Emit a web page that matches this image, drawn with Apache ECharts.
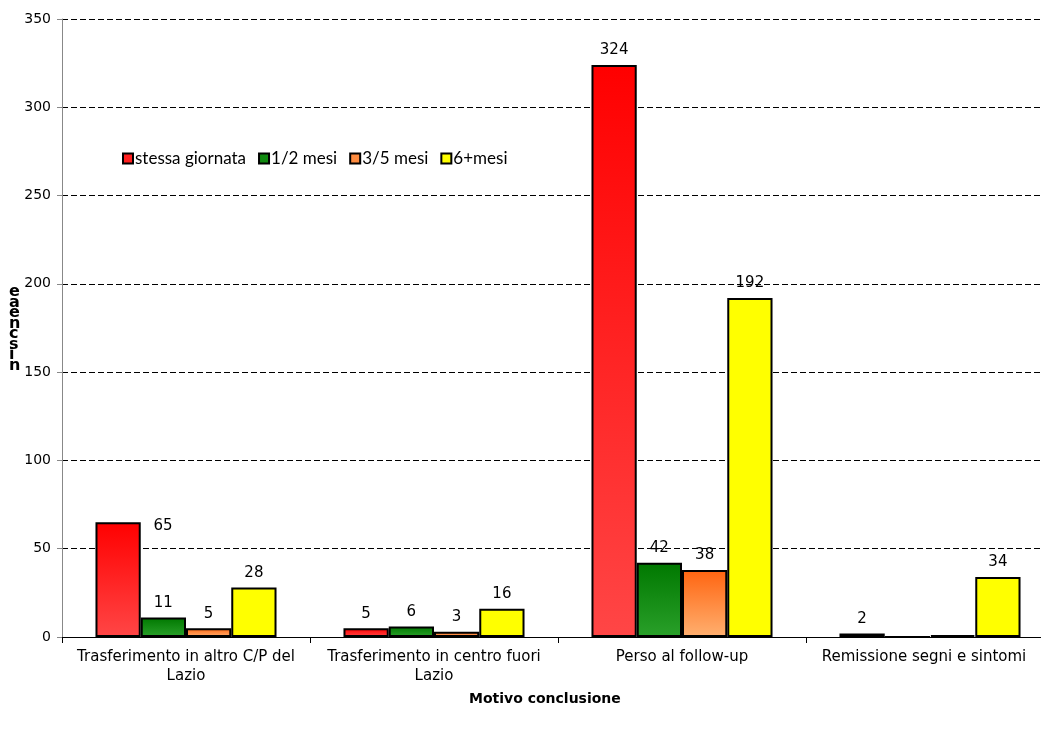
<!DOCTYPE html>
<html>
<head>
<meta charset="utf-8">
<script src="https://cdn.jsdelivr.net/npm/echarts@6/dist/echarts.min.js"></script>
<style>
  html, body { margin: 0; padding: 0; background: #ffffff; overflow: hidden; }
  #chart { width: 1054px; height: 733px; }
</style>
</head>
<body>
<div id="chart"></div>
<script>
// Motivo conclusione: number of cases by follow-up duration
const categories = [
  'Trasferimento in altro C/P del\nLazio',
  'Trasferimento in centro fuori\nLazio',
  'Perso al follow-up',
  'Remissione segni e sintomi'
];
const seriesNames = ['stessa giornata', '1/2 mesi', '3/5 mesi', '6+mesi'];
const stessaGiornata = [65, 5, 324, 2];
const unoDueMesi = [11, 6, 42, 0];
const treCinqueMesi = [5, 3, 38, 1];
const seiPiuMesi = [28, 16, 192, 34];
const yTicks = [0, 50, 100, 150, 200, 250, 300, 350];
const yAxisTitleChars = ['e', 'a', 'e', 'n', 'c', 's', 'i', 'n'];

const grad = (top, bottom) => new echarts.graphic.LinearGradient(0, 0, 0, 1, [
  { offset: 0, color: top },
  { offset: 1, color: bottom }
]);

const fills = [
  grad('#ff0000', '#ff4646'),
  grad('#007800', '#2aa02a'),
  grad('#ff6410', '#ffb070'),
  '#ffff00'
];
const legendFills = ['#ff2020', '#108a10', '#ff8c40', '#ffff00'];

const labelFont = { fontFamily: 'DejaVu Sans', fontSize: 15, color: '#000' };

function buildData(values, seriesIdx) {
  return values.map((v, i) => {
    const item = { value: v };
    // hide labels for empty/near-empty bars in the last group
    if (i === 3 && (seriesIdx === 1 || seriesIdx === 2)) {
      item.label = { show: false };
    }
    // the first red bar carries its label beside the top edge
    if (i === 0 && seriesIdx === 0) {
      item.label = { offset: [45, 18] };
    }
    return item;
  });
}

const allValues = [stessaGiornata, unoDueMesi, treCinqueMesi, seiPiuMesi];

const series = allValues.map((vals, s) => ({
  name: seriesNames[s],
  type: 'bar',
  data: buildData(vals, s),
  barGap: '0%',
  barCategoryGap: '27%',
  itemStyle: {
    color: fills[s],
    borderColor: '#000',
    borderWidth: 2
  },
  label: Object.assign({ show: true, position: 'top', distance: 7 }, labelFont),
  emphasis: { disabled: true }
}));

const chart = echarts.init(document.getElementById('chart'), null, { renderer: 'canvas' });

chart.setOption({
  backgroundColor: '#ffffff',
  animation: false,
  grid: { left: 62, top: 19, right: 0, bottom: 96, containLabel: false },
  legend: {
    left: 117,
    top: 145,
    itemWidth: 10,
    itemHeight: 10,
    itemGap: 12,
    icon: 'rect',
    data: seriesNames.map((n, i) => ({
      name: n,
      itemStyle: { color: legendFills[i], borderColor: '#000', borderWidth: 2 }
    })),
    textStyle: { fontFamily: 'Lato', fontSize: 17, color: '#000', padding: [0, 0, 0, -3] }
  },
  xAxis: {
    type: 'category',
    data: categories,
    axisLine: { lineStyle: { color: '#000', width: 1 } },
    axisTick: { show: true, length: 6, lineStyle: { color: '#000' } },
    axisLabel: {
      fontFamily: 'DejaVu Sans',
      fontSize: 15,
      color: '#000',
      margin: 11,
      lineHeight: 19,
      interval: 0,
      formatter: (v, i) => (i === 3 ? '{r|' + v + '}' : v),
      rich: {
        r: { fontFamily: 'DejaVu Sans', fontSize: 15, color: '#000', padding: [0, 12, 0, 0] }
      }
    }
  },
  yAxis: {
    type: 'value',
    min: yTicks[0],
    max: yTicks[yTicks.length - 1],
    interval: 50,
    axisLine: { show: true, lineStyle: { color: '#888', width: 1 } },
    axisTick: { show: true, length: 5, lineStyle: { color: '#888' } },
    axisLabel: {
      fontFamily: 'DejaVu Sans',
      fontSize: 14,
      color: '#000',
      margin: 11
    },
    splitLine: {
      show: true,
      lineStyle: { color: '#000', type: [6, 3], width: 1 }
    }
  },
  graphic: [
    {
      type: 'text',
      left: 469,
      top: 692,
      style: {
        text: 'Motivo conclusione',
        font: 'bold 14px "DejaVu Sans"',
        fill: '#000'
      }
    },
    {
      type: 'text',
      left: 9,
      top: 284,
      style: {
        text: yAxisTitleChars.join('\n'),
        font: 'bold 16px "DejaVu Sans"',
        lineHeight: 10.5,
        fill: '#000'
      }
    }
  ],
  series: series
});
</script>
</body>
</html>
